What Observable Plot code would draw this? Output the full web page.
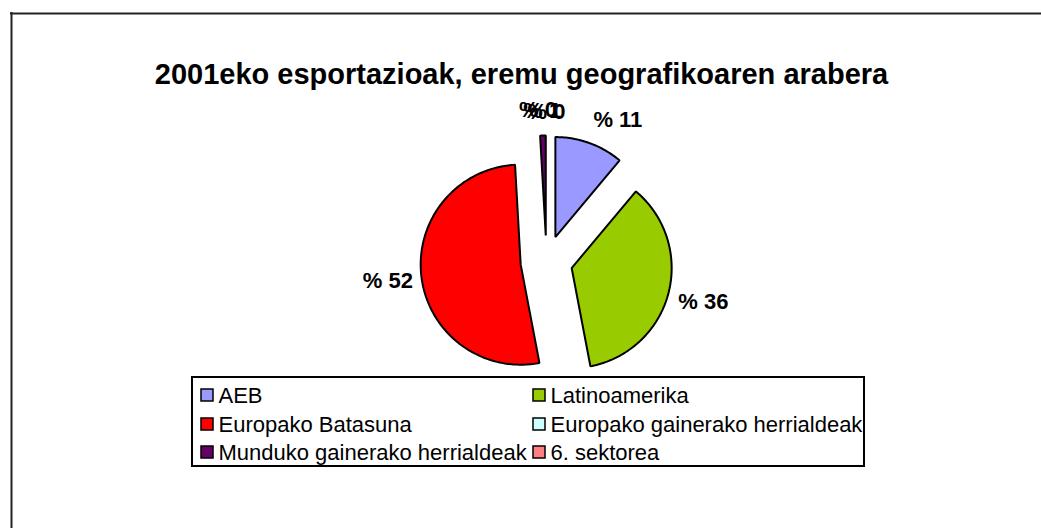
<!DOCTYPE html>
<html>
<head>
<meta charset="utf-8">
<script src="https://cdn.jsdelivr.net/npm/d3@7"></script>
<script src="https://cdn.jsdelivr.net/npm/@observablehq/plot@0.6"></script>
<style>
  html, body { margin: 0; padding: 0; background: #ffffff; }
</style>
</head>
<body>
<div id="chart"></div>
<script>
// ---- data ----
const chartTitle = "2001eko esportazioak, eremu geografikoaren arabera";
const categories = [
  "AEB",
  "Latinoamerika",
  "Europako Batasuna",
  "Europako gainerako herrialdeak",
  "Munduko gainerako herrialdeak",
  "6. sektorea"
];
const shares = [11.1, 35.9, 52.1, 0, 0.9, 0];
const sliceColors = ["#9999FF", "#99CC00", "#FF0000", "#CCFFFF", "#660066", "#FF8080"];
const labelPrefix = "% ";

// ---- layout ----
const W = 1041, H = 528;
const font = "'Liberation Sans', Arial, Helvetica, sans-serif";
const pie = {cx: 546, cy: 261, r: 100, explode: 26};
const labelFont = 22;
const labelNudge = {"AEB": [17, 8]};
const legend = {x1: 192, x2: 864, y1: 377, y2: 466, cols: [201, 533], rows: [395, 424, 452], box: 12, textGap: 5, fontSize: 22};

const total = d3.sum(shares);
const rows = categories.map((c, i) => ({cat: c, value: shares[i], color: sliceColors[i]}));

// slice geometry (angles clockwise from 12 o'clock)
let acc = 0;
const slicePts = [];
const labels = [];
rows.forEach((d, i) => {
  const a0 = acc / total * 2 * Math.PI;
  acc += d.value;
  const a1 = acc / total * 2 * Math.PI;
  const am = (a0 + a1) / 2;
  const dx = Math.sin(am), dy = -Math.cos(am);
  const ax = pie.cx + pie.explode * dx, ay = pie.cy + pie.explode * dy;
  if (d.value > 0) {
    const pts = [{cat: d.cat, x: ax, y: ay}];
    const n = Math.max(2, Math.ceil((a1 - a0) / (Math.PI / 180)));
    for (let k = 0; k <= n; k++) {
      const a = a0 + (a1 - a0) * k / n;
      pts.push({cat: d.cat, x: ax + pie.r * Math.sin(a), y: ay - pie.r * Math.cos(a)});
    }
    slicePts.push({cat: d.cat, color: d.color, pts});
  }
  const pct = Math.round(d.value / total * 100);
  const text = labelPrefix + pct;
  const halfW = (0.889 + 0.278 + 0.556 * String(pct).length) * labelFont / 2;
  const halfH = 0.36 * labelFont;
  const s = Math.abs(dx), c = Math.abs(dy);
  const dist = pie.r + halfW * s + halfH * c + 6 * s + 16 * c;
  const nudge = labelNudge[d.cat] || [0, 0];
  labels.push({text, x: ax + dist * dx + nudge[0], y: ay + dist * dy + nudge[1]});
});

// legend items
const legendItems = rows.map((d, i) => {
  const col = i % 2, row = Math.floor(i / 2);
  const x = legend.cols[col], y = legend.rows[row];
  return {cat: d.cat, color: d.color, x1: x, x2: x + legend.box, y1: y - legend.box / 2, y2: y + legend.box / 2, tx: x + legend.box + legend.textGap, ty: y};
});

const marks = [];
// outer chart-area border (top and left visible)
marks.push(Plot.ruleY([13], {x1: 10, x2: W, stroke: "#222", strokeWidth: 2}));
marks.push(Plot.ruleX([11], {y1: 12, y2: H, stroke: "#222", strokeWidth: 2}));
// title
marks.push(Plot.text([chartTitle], {x: 521, y: 74, text: d => d, fontSize: 29, fontWeight: "bold", fill: "#000"}));
// slices
for (const s of slicePts) {
  marks.push(Plot.line(s.pts, {x: "x", y: "y", curve: "linear-closed", fill: s.color, stroke: "#000", strokeWidth: 2, strokeLinejoin: "miter"}));
}
// data labels
marks.push(Plot.text(labels, {x: "x", y: "y", text: "text", fontSize: labelFont, fontWeight: "bold", fill: "#000"}));
// legend
marks.push(Plot.rect([legend], {x1: "x1", x2: "x2", y1: "y1", y2: "y2", fill: "#fff", stroke: "#000", strokeWidth: 2}));
marks.push(Plot.rect(legendItems, {x1: "x1", x2: "x2", y1: "y1", y2: "y2", fill: "color", stroke: "#000", strokeWidth: 1.5}));
marks.push(Plot.text(legendItems, {x: "tx", y: "ty", text: "cat", textAnchor: "start", fontSize: legend.fontSize, fill: "#000"}));

const chart = Plot.plot({
  width: W,
  height: H,
  margin: 0,
  x: {type: "identity", axis: null},
  y: {type: "identity", axis: null},
  color: {type: "identity"},
  style: {fontFamily: font, background: "#fff", overflow: "visible"},
  marks
});
document.getElementById("chart").appendChild(chart);
</script>
</body>
</html>
